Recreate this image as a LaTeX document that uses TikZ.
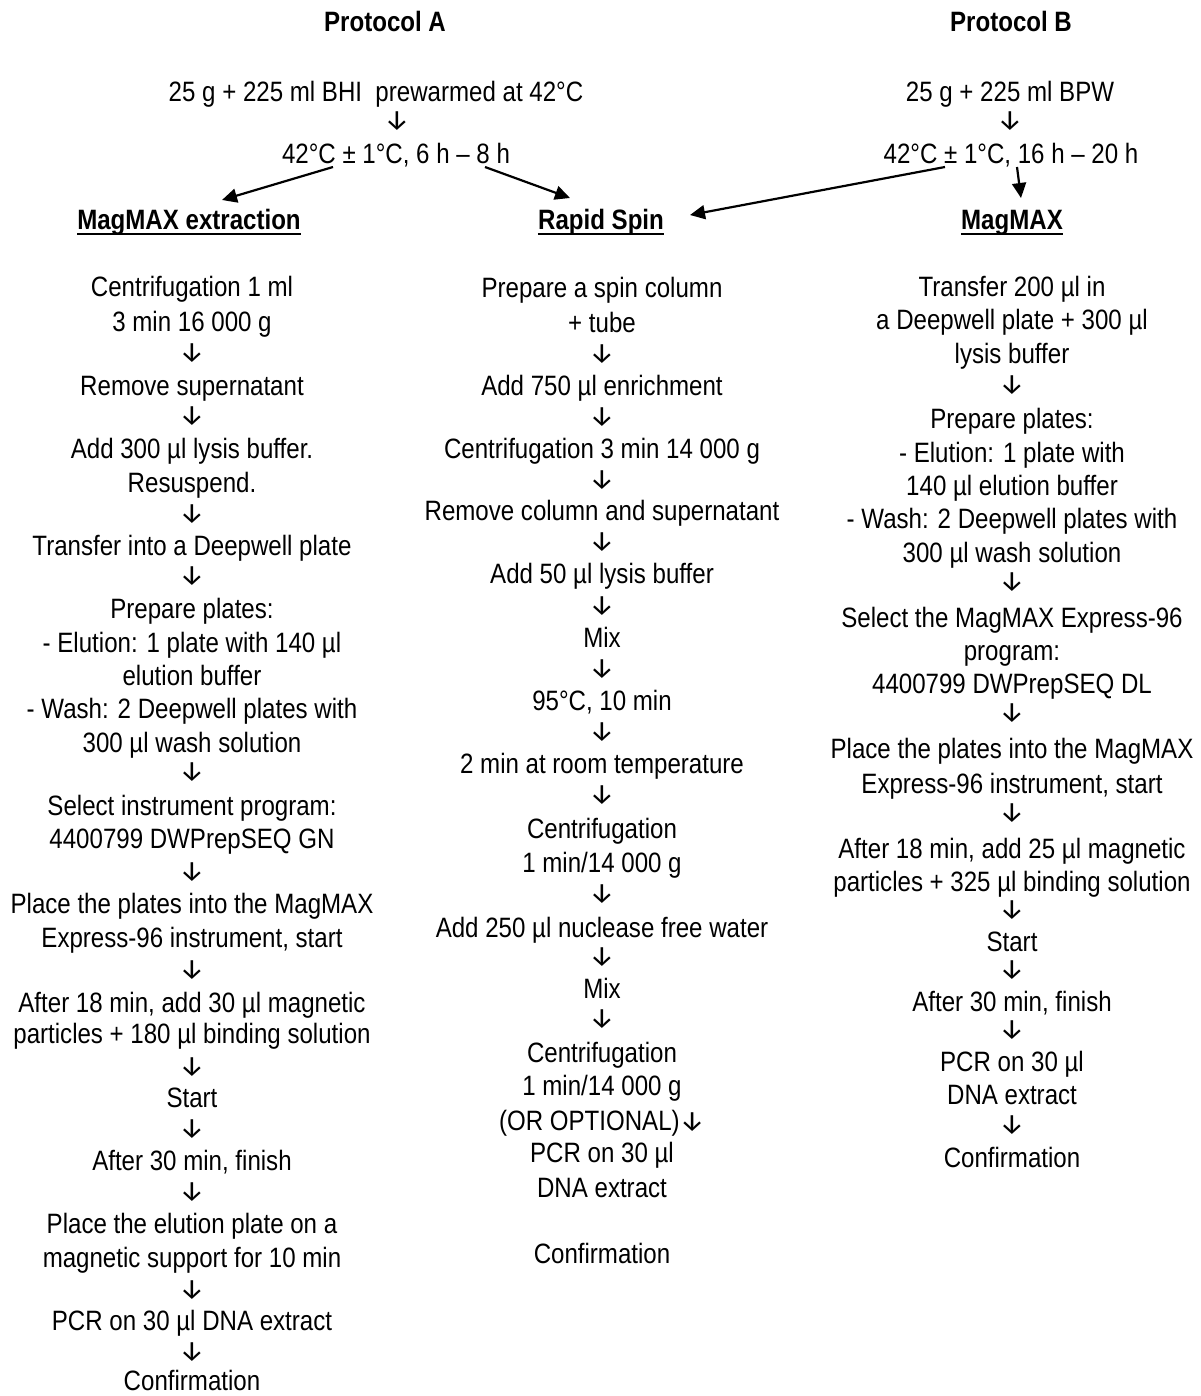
\documentclass[tikz,border=0pt]{standalone}
\usepackage{fontspec}
\setmainfont{Liberation Sans}[FakeStretch=0.86]
\newfontfamily\arrowfont{Fira Sans}
\newcommand{\dnarr}{{\arrowfont\fontsize{28pt}{28pt}\selectfont ↓}}
\usetikzlibrary{arrows.meta, calc}

\tikzset{
  steptext/.style={anchor=base, inner sep=0pt, font=\fontsize{28pt}{33pt}\selectfont},
  headtext/.style={anchor=base, inner sep=0pt, font=\fontsize{28pt}{33pt}\selectfont\bfseries},
  downglyph/.style={anchor=center, inner sep=0pt},
  flowarrow/.style={line width=2.2pt, -{Triangle[length=15pt,width=14pt]}},
  underbar/.style={line width=2pt},
}

\begin{document}
\begin{tikzpicture}[x=1pt, y=-1pt]
  \useasboundingbox (0,0) rectangle (1200,1396);

  % protocol titles
  \node[headtext] (protA) at (385,32) {Protocol A};
  \node[headtext] (protB) at (1011,32) {Protocol B};

  % enrichment
  \node[steptext] (enrA) at (376,102) {25 g + 225 ml BHI~ prewarmed at 42°C};
  \node[downglyph] (dEnrA) at (397,121) {\dnarr};
  \node[steptext] (incA) at (396,164) {42°C ± 1°C, 6 h – 8 h};
  \node[steptext] (enrB) at (1010,102) {25 g + 225 ml BPW};
  \node[downglyph] (dEnrB) at (1010,121) {\dnarr};
  \node[steptext] (incB) at (1011,164) {42°C ± 1°C, 16 h – 20 h};

  % method headings
  \node[headtext] (magA) at (189,230) {MagMAX extraction};
  \node[headtext] (spin) at (601,230) {Rapid Spin};
  \node[headtext] (magB) at (1012,230) {MagMAX};
  \foreach \h in {magA, spin, magB}
    \draw[underbar] ($(\h.base west)+(0,4)$) -- ($(\h.base east)+(0,4)$);

  \draw[flowarrow] ($(incA.base)+(-63,3)$) -- ($(magA.base)+(33,-30)$);
  \draw[flowarrow] ($(incA.base)+(89,3)$) -- ($(spin.base)+(-31,-32)$);
  \draw[flowarrow] ($(incB.base)+(-66,3)$) -- ($(spin.base)+(89,-15)$);
  \draw[flowarrow] ($(incB.base)+(6,3)$) -- ($(magB.base)+(9,-32)$);

  % MagMAX extraction (protocol A)
  \foreach \y/\t [count=\i] in {
    297/Centrifugation 1 ml,
    331/3 min 16 000 g,
    395/Remove supernatant,
    458/Add 300 µl lysis buffer.,
    492/Resuspend.,
    555/Transfer into a Deepwell plate,
    618/Prepare plates:,
    652/- Elution: 1 plate with 140 µl,
    685/elution buffer,
    718/- Wash: 2 Deepwell plates with,
    752/300 µl wash solution,
    815/Select instrument program:,
    848/4400799 DWPrepSEQ GN,
    913/Place the plates into the MagMAX,
    947/{Express-96 instrument, start},
    1012/{After 18 min, add 30 µl magnetic},
    1043/particles + 180 µl binding solution,
    1107/Start,
    1170/{After 30 min, finish},
    1233/Place the elution plate on a,
    1267/magnetic support for 10 min,
    1330/PCR on 30 µl DNA extract,
    1390/Confirmation}
    \node[steptext] (A\i) at (192,\y) {\t};
  \foreach \y [count=\i] in {353,416,514,576,772,872,970,1067,1129,1192,1290,1352}
    \node[downglyph] (dA\i) at (192,\y) {\dnarr};

  % Rapid Spin
  \foreach \y/\t [count=\i] in {
    298/Prepare a spin column,
    332/+ tube,
    395/Add 750 µl enrichment,
    458/Centrifugation 3 min 14 000 g,
    520/Remove column and supernatant,
    583/Add 50 µl lysis buffer,
    647/Mix,
    710/{95°C, 10 min},
    773/2 min at room temperature,
    838/Centrifugation,
    872/{1 min/14 000 g},
    937/Add 250 µl nuclease free water,
    998/Mix,
    1062/Centrifugation,
    1095/{1 min/14 000 g},
    1130/{(OR OPTIONAL)\dnarr},
    1162/PCR on 30 µl,
    1197/DNA extract,
    1263/Confirmation}
    \node[steptext] (S\i) at (602,\y) {\t};
  \foreach \y [count=\i] in {354,417,480,542,606,669,732,795,894,957,1019}
    \node[downglyph] (dS\i) at (602,\y) {\dnarr};

  % MagMAX (protocol B)
  \foreach \y/\t [count=\i] in {
    297/Transfer 200 µl in,
    330/a Deepwell plate + 300 µl,
    363/lysis buffer,
    428/Prepare plates:,
    462/- Elution: 1 plate with,
    495/140 µl elution buffer,
    528/- Wash: 2 Deepwell plates with,
    562/300 µl wash solution,
    627/Select the MagMAX Express-96,
    660/program:,
    693/4400799 DWPrepSEQ DL,
    758/Place the plates into the MagMAX,
    793/{Express-96 instrument, start},
    858/{After 18 min, add 25 µl magnetic},
    891/particles + 325 µl binding solution,
    951/Start,
    1011/{After 30 min, finish},
    1071/PCR on 30 µl,
    1104/DNA extract,
    1167/Confirmation}
    \node[steptext] (B\i) at (1012,\y) {\t};
  \foreach \y [count=\i] in {385,582,713,813,910,970,1030,1125}
    \node[downglyph] (dB\i) at (1012,\y) {\dnarr};
\end{tikzpicture}
\end{document}
